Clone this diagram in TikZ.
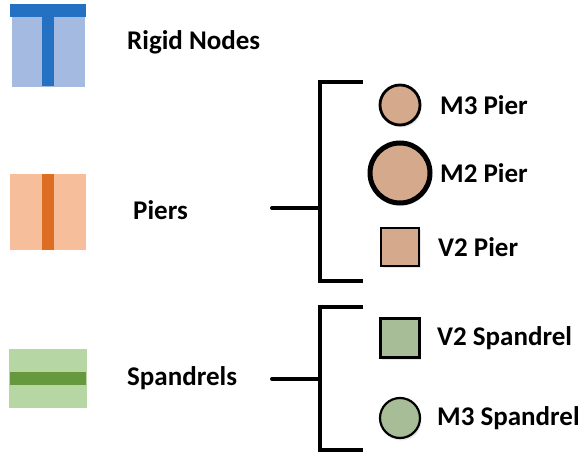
\documentclass[tikz,border=0pt]{standalone}
\usepackage{fontspec}
\setmainfont{Carlito}
\usetikzlibrary{shadows}
\definecolor{rigidlight}{HTML}{A5BAE0}
\definecolor{rigiddark}{HTML}{2471C3}
\definecolor{pierlight}{HTML}{F6BE9A}
\definecolor{pierdark}{HTML}{DC6D22}
\definecolor{spanlight}{HTML}{B6D6A4}
\definecolor{spandark}{HTML}{66993E}
\definecolor{pierfill}{HTML}{D5A98C}
\definecolor{spanfill}{HTML}{A6BD98}
\tikzset{
  lbl/.style={anchor=west,inner sep=0pt,font=\fontsize{27}{27}\selectfont\bfseries},
  brace/.style={line width=4pt,line cap=round,line join=miter},
  elem/.style={draw=black,inner sep=0pt,drop shadow={shadow xshift=1.5pt,shadow yshift=-2.5pt,opacity=0.18}},
  circ/.style={elem,circle,minimum size=#1},
  sq/.style={elem,rectangle,minimum size=#1}
}
\begin{document}
\begin{tikzpicture}[x=1pt,y=-1pt]
\useasboundingbox (0,0) rectangle (584,457);

% rigid node icon
\fill[rigidlight] (12,17) rectangle (85,87);
\fill[rigiddark] (10,4) rectangle (86,17);
\fill[rigiddark] (42,17) rectangle (54,86);
\node[lbl] (rigid) at (127,42) {Rigid Nodes};

% pier icon
\fill[pierlight] (10,174) rectangle (86,250);
\fill[pierdark] (42,174) rectangle (54,250);
\node[lbl] (piers) at (133,210) {Piers};

% spandrel icon
\fill[spanlight] (9,349) rectangle (87,408);
\fill[spandark] (10,372) rectangle (86,385);
\node[lbl] (spandrels) at (127,378) {Spandrels};

% pier bracket
\coordinate (pa) at (272,208);
\coordinate (pm) at (320,208);
\coordinate (pt) at (320,82);
\coordinate (pb) at (320,281);
\coordinate (pte) at (363,82);
\coordinate (pbe) at (363,281);
\draw[brace] (pa) -- (pm);
\draw[brace,line cap=butt] (pte) -- (pt) -- (pb) -- (pbe);

% pier elements
\node[circ=40pt,line width=2.8pt,fill=pierfill] (m3p) at (400,105) {};
\node[circ=60pt,line width=5pt,fill=pierfill] (m2p) at (400,173) {};
\node[sq=38pt,line width=2.2pt,fill=pierfill] (v2p) at (400,247) {};
\node[lbl] (m3pl) at (440,105) {M3 Pier};
\node[lbl] (m2pl) at (440,173) {M2 Pier};
\node[lbl] (v2pl) at (438,247) {V2 Pier};

% spandrel bracket
\coordinate (sa) at (272,379);
\coordinate (sm) at (320,379);
\coordinate (st) at (320,307);
\coordinate (sb) at (320,450);
\coordinate (ste) at (363,307);
\coordinate (sbe) at (363,450);
\draw[brace] (sa) -- (sm);
\draw[brace,line cap=butt] (ste) -- (st) -- (sb) -- (sbe);

% spandrel elements
\node[sq=39pt,line width=2.2pt,fill=spanfill] (v2s) at (400,338) {};
\node[circ=40pt,line width=2.2pt,fill=spanfill] (m3s) at (400,418) {};
\node[lbl] (v2sl) at (437,338) {V2 Spandrel};
\node[lbl] (m3sl) at (437,418) {M3 Spandrel};
\end{tikzpicture}
\end{document}
